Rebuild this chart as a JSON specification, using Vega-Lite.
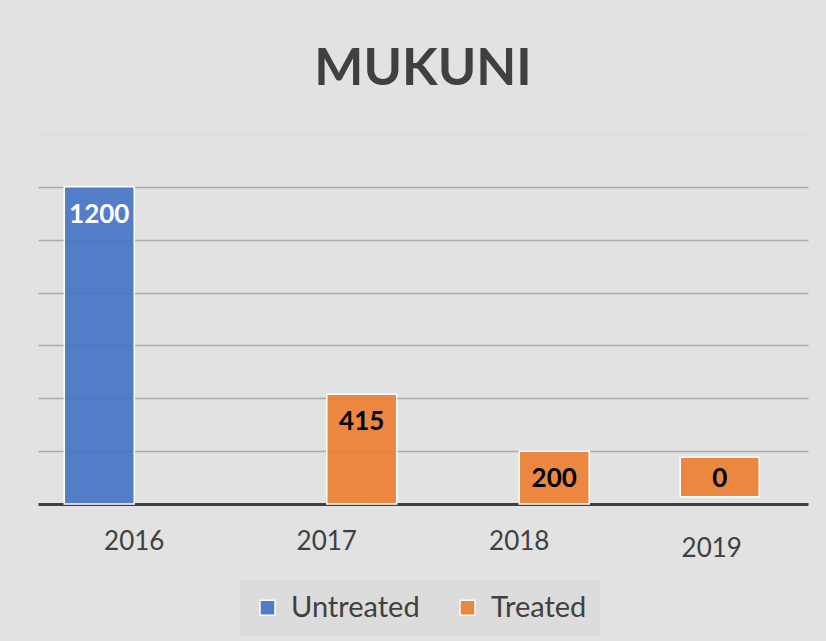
{
  "$schema": "https://vega.github.io/schema/vega-lite/v6.json",
  "width": 770,
  "height": 370,
  "autosize": {"type": "none"},
  "padding": {"left": 38, "top": 134, "right": 18, "bottom": 137},
  "background": "#e2e2e2",
  "title": {"text": "MUKUNI", "font": "Lato", "fontSize": 52, "fontWeight": "bold", "color": "#404040", "anchor": "middle", "offset": 38},
  "data": {"values": [
    {"Year": "2016", "Type": "Untreated", "Value": 1200},
    {"Year": "2017", "Type": "Treated", "Value": 415},
    {"Year": "2018", "Type": "Treated", "Value": 200},
    {"Year": "2019", "Type": "Treated", "Value": 0}
  ]},
  "encoding": {
    "x": {"field": "Year", "type": "nominal", "scale": {"paddingInner": 0.273, "paddingOuter": 0.1365},
      "axis": {"title": null, "labelAngle": 0, "labelFont": "Lato", "labelFontSize": 26, "labelColor": "#404040",
        "labelPadding": {"condition": {"test": "datum.value == '2019'", "value": 31}, "value": 24},
        "ticks": false, "domainColor": "#3f3f3f", "domainWidth": 3, "grid": false}},
    "y": {"field": "Value", "type": "quantitative", "scale": {"domain": [0, 1400], "nice": false},
      "axis": {"title": null, "labels": false, "ticks": false, "domain": false, "values": [200, 400, 600, 800, 1000, 1200, 1400],
        "gridColor": {"condition": {"test": "datum.value == 1400", "value": "#dadada"}, "value": "#ababab"}, "gridWidth": 1.5}}
  },
  "layer": [
    {
      "transform": [{"filter": "datum.Value > 0"}],
      "mark": {"type": "bar", "fillOpacity": 0.9, "stroke": "white", "strokeWidth": 1.5},
      "encoding": {
        "xOffset": {"field": "Type", "scale": {"domain": ["Untreated", "Treated"]}},
        "color": {"field": "Type", "type": "nominal", "scale": {"domain": ["Untreated", "Treated"], "range": ["#4472c4", "#ed7d31"]},
          "legend": {"title": null, "orient": "none", "legendX": 202, "legendY": 446, "direction": "horizontal", "symbolType": "square", "symbolSize": 225,
            "symbolStrokeColor": "white", "symbolStrokeWidth": 1.5, "symbolOpacity": 0.9, "labelFont": "Lato", "labelFontSize": 29,
            "labelColor": "#404040", "labelOffset": 9, "columnPadding": 33, "padding": 13, "fillColor": "#dcdcdc"}}
      }
    },
    {
      "transform": [{"filter": "datum.Value > 0"}],
      "mark": {"type": "text", "dy": 28, "font": "Lato", "fontSize": 26, "fontWeight": "bold", "baseline": "middle"},
      "encoding": {
        "xOffset": {"field": "Type", "scale": {"domain": ["Untreated", "Treated"]}},
        "text": {"field": "Value", "type": "quantitative"},
        "color": {"condition": {"test": "datum.Type == 'Untreated'", "value": "white"}, "value": "black"}
      }
    },
    {
      "transform": [{"filter": "datum.Value == 0"}],
      "mark": {"type": "point", "shape": "M-1,-0.5H1V0.5H-1Z", "size": 6241, "filled": true, "opacity": 1, "fill": "#ed7d31", "fillOpacity": 0.9, "stroke": "white", "strokeWidth": 1.5, "xOffset": 8, "yOffset": -27},
      "encoding": {}
    },
    {
      "transform": [{"filter": "datum.Value == 0"}],
      "mark": {"type": "text", "font": "Lato", "fontSize": 26, "fontWeight": "bold", "baseline": "middle", "color": "black", "xOffset": 8, "yOffset": -25},
      "encoding": {"text": {"field": "Value", "type": "quantitative"}}
    }
  ],
  "config": {"view": {"stroke": null}, "font": "Lato"}
}
